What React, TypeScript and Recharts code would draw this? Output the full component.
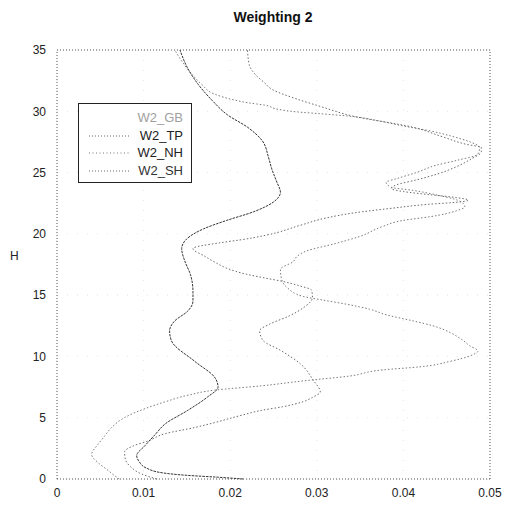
import React from 'react';
import { LineChart, Line, XAxis, YAxis, ReferenceLine, CartesianGrid } from 'recharts';

// axis ticks
const xTicks = [0, 0.01, 0.02, 0.03, 0.04, 0.05];
const hTicks = [0, 5, 10, 15, 20, 25, 30, 35];

// W2_TP (dark curve)
const tpH = [0, 0.15, 0.3, 0.5, 0.9, 1.4, 1.9, 2.75, 3.6, 4.5, 5.6, 6.7, 7.5, 8.3, 9.6, 11.3, 12.1, 12.9, 13.7, 14.5, 15.3, 16.7, 17.7, 18.8, 19.6, 20.4, 21.1, 21.8, 22.6, 23.4, 24.2, 25.3, 26.3, 27.6, 28.7, 29.7, 30.9, 32.2, 33.5, 35];
const tpV = [0.0215, 0.0185, 0.015, 0.0122, 0.0103, 0.0095, 0.0092, 0.0102, 0.0113, 0.0125, 0.0151, 0.0174, 0.0186, 0.0182, 0.0159, 0.0132, 0.013, 0.0136, 0.0151, 0.0157, 0.0157, 0.0154, 0.0148, 0.0144, 0.015, 0.0169, 0.0196, 0.0227, 0.025, 0.0258, 0.0254, 0.0248, 0.0244, 0.0237, 0.022, 0.0197, 0.0179, 0.0163, 0.0151, 0.0142];

// W2_NH
const nhH = [0, 0.3, 0.7, 1.3, 2.0, 2.8, 3.5, 4.2, 5.05, 5.75, 6.3, 6.85, 7.25, 7.6, 8.0, 8.4, 8.9, 9.15, 9.6, 10.05, 10.45, 10.85, 11.4, 11.95, 12.5, 12.9, 13.4, 13.85, 14.25, 14.6, 14.9, 15.6, 16.4, 17.1, 17.75, 18.15, 18.6, 19.2, 19.8, 20.6, 21.1, 21.4, 21.9, 22.2, 22.6, 22.85, 23.15, 23.55, 23.8, 24.2, 24.5, 25.0, 25.6, 26.0, 26.5, 27.05, 27.5, 28.0, 28.4, 28.8, 29.2, 29.6, 29.8, 29.95, 30.15, 30.5, 30.7, 30.9, 31.4, 32.2, 33.0, 34.0, 35];
const nhV = [0.0072, 0.0066, 0.0059, 0.0048, 0.004, 0.0047, 0.0055, 0.0063, 0.0079, 0.0102, 0.0125, 0.0152, 0.0182, 0.0236, 0.0284, 0.0338, 0.0376, 0.0419, 0.0454, 0.0477, 0.0486, 0.0477, 0.0467, 0.0454, 0.0434, 0.0411, 0.038, 0.0361, 0.0335, 0.0307, 0.0284, 0.0266, 0.0259, 0.0258, 0.0273, 0.0277, 0.0288, 0.0321, 0.035, 0.0376, 0.04, 0.0431, 0.0462, 0.0471, 0.0467, 0.0458, 0.044, 0.0411, 0.0386, 0.038, 0.0392, 0.0415, 0.0438, 0.0462, 0.0486, 0.0488, 0.0477, 0.0454, 0.0431, 0.04, 0.0373, 0.0338, 0.0304, 0.0277, 0.0256, 0.024, 0.022, 0.0206, 0.0182, 0.0167, 0.0156, 0.0145, 0.0136];

// W2_SH
const shH = [0, 0.4, 1.0, 1.6, 2.2, 2.7, 3.1, 3.7, 4.2, 4.6, 5.2, 5.6, 5.9, 6.3, 6.7, 7.1, 8.05, 9.4, 10.5, 11.3, 12.1, 12.65, 13.3, 14.0, 14.8, 15.4, 15.8, 16.1, 16.4, 16.7, 17.2, 17.7, 18.2, 18.8, 19.27, 19.5, 19.9, 20.7, 21.3, 21.7, 22.1, 22.4, 22.6, 22.75, 22.95, 23.2, 23.45, 23.7, 24.0, 24.4, 24.9, 25.5, 26.1, 26.7, 27.05, 27.3, 27.9, 28.7, 29.6, 30.4, 31.0, 31.8, 32.3, 33.0, 33.8, 35];
const shV = [0.0115, 0.0098, 0.0085, 0.0079, 0.0078, 0.0088, 0.0105, 0.0125, 0.0159, 0.0182, 0.0213, 0.0236, 0.0261, 0.0284, 0.0296, 0.0304, 0.0296, 0.0281, 0.0258, 0.0238, 0.0234, 0.0246, 0.0268, 0.0285, 0.0295, 0.0294, 0.0278, 0.0262, 0.024, 0.0219, 0.0196, 0.0182, 0.017, 0.0157, 0.0188, 0.0211, 0.0242, 0.0281, 0.0311, 0.0342, 0.0388, 0.0427, 0.0465, 0.0475, 0.0462, 0.043, 0.04, 0.0386, 0.0392, 0.0415, 0.044, 0.0462, 0.0478, 0.049, 0.049, 0.0473, 0.0446, 0.0411, 0.0342, 0.0304, 0.0277, 0.0248, 0.024, 0.0229, 0.0222, 0.022];

const legendNames = ['W2_GB', 'W2_TP', 'W2_NH', 'W2_SH'];

const toPoints = (hs: number[], vs: number[]) => hs.map((h, i) => ({ h, v: vs[i] }));

const FONT = '"Liberation Sans", Arial, sans-serif';

const legendStyles = [
  { text: '#a0a0a0', stroke: 'none', dash: '' },
  { text: '#222', stroke: '#666', dash: '1 2' },
  { text: '#222', stroke: '#777', dash: '1 2.5' },
  { text: '#333', stroke: '#666', dash: '1 2' },
];

const ChartLegend = () => (
  <div
    style={{
      position: 'absolute',
      left: 78,
      top: 103,
      width: 112,
      height: 78,
      border: '1.5px solid #222',
      background: '#fff',
      fontFamily: FONT,
      fontSize: 13,
    }}
  >
    {legendNames.map((name, i) => (
      <div key={name} style={{ position: 'absolute', left: 0, top: 6 + i * 17.5, width: 112, height: 15 }}>
        <svg width={50} height={15} style={{ position: 'absolute', left: 8, top: 0 }}>
          {legendStyles[i].stroke !== 'none' && (
            <line x1={2} y1={8} x2={42} y2={8} stroke={legendStyles[i].stroke} strokeDasharray={legendStyles[i].dash} />
          )}
        </svg>
        <span style={{ position: 'absolute', right: 8, top: 0, lineHeight: '15px', color: legendStyles[i].text }}>
          {name}
        </span>
      </div>
    ))}
  </div>
);

export default function App() {
  return (
    <div style={{ position: 'absolute', left: 0, top: 0, width: 505, height: 507, background: '#fff', fontFamily: FONT }}>
      <div
        style={{
          position: 'absolute',
          left: 173,
          top: 9,
          width: 200,
          textAlign: 'center',
          fontSize: 14,
          fontWeight: 'bold',
          lineHeight: '16px',
          color: '#111',
        }}
      >
        Weighting 2
      </div>
      <div style={{ position: 'absolute', left: 10, top: 249, fontSize: 12, color: '#222' }}>H</div>
      <LineChart
        width={505}
        height={507}
        layout="vertical"
        margin={{ top: 50, right: 15, bottom: 8, left: 0 }}
        style={{ position: 'absolute', left: 0, top: 0 }}
      >
        <CartesianGrid stroke="#e4e4e4" strokeDasharray="1 9" />
        <XAxis
          type="number"
          dataKey="v"
          domain={[0, 0.05]}
          ticks={xTicks}
          tickFormatter={(v: number) => (v === 0 ? '0' : v.toFixed(2))}
          height={20}
          axisLine={false}
          tickLine={false}
          tickSize={6}
          tickMargin={3}
          tick={{ fill: '#222', fontSize: 12, fontFamily: FONT }}
        />
        <YAxis
          type="number"
          dataKey="h"
          domain={[0, 35]}
          ticks={hTicks}
          reversed
          width={57}
          axisLine={false}
          tickLine={false}
          tickSize={6}
          tickMargin={5}
          tick={{ fill: '#222', fontSize: 12, fontFamily: FONT }}
        />
        <ReferenceLine x={0} stroke="#555" strokeDasharray="1 2" />
        <ReferenceLine x={0.05} stroke="#555" strokeDasharray="1 2" />
        <ReferenceLine y={0} stroke="#555" strokeDasharray="1 2" />
        <ReferenceLine y={35} stroke="#555" strokeDasharray="1 2" />
        <Line
          data={toPoints(nhH, nhV)}
          dataKey="v"
          name="W2_NH"
          type="monotone"
          stroke="#7a7a7a"
          strokeWidth={1}
          strokeDasharray="1.5 2"
          dot={false}
          isAnimationActive={false}
        />
        <Line
          data={toPoints(shH, shV)}
          dataKey="v"
          name="W2_SH"
          type="monotone"
          stroke="#6a6a6a"
          strokeWidth={1}
          strokeDasharray="1.5 2"
          dot={false}
          isAnimationActive={false}
        />
        <Line
          data={toPoints(tpH, tpV)}
          dataKey="v"
          name="W2_TP"
          type="monotone"
          stroke="#333"
          strokeWidth={1}
          strokeDasharray="2.5 1"
          dot={false}
          isAnimationActive={false}
        />
      </LineChart>
      <ChartLegend />
    </div>
  );
}
